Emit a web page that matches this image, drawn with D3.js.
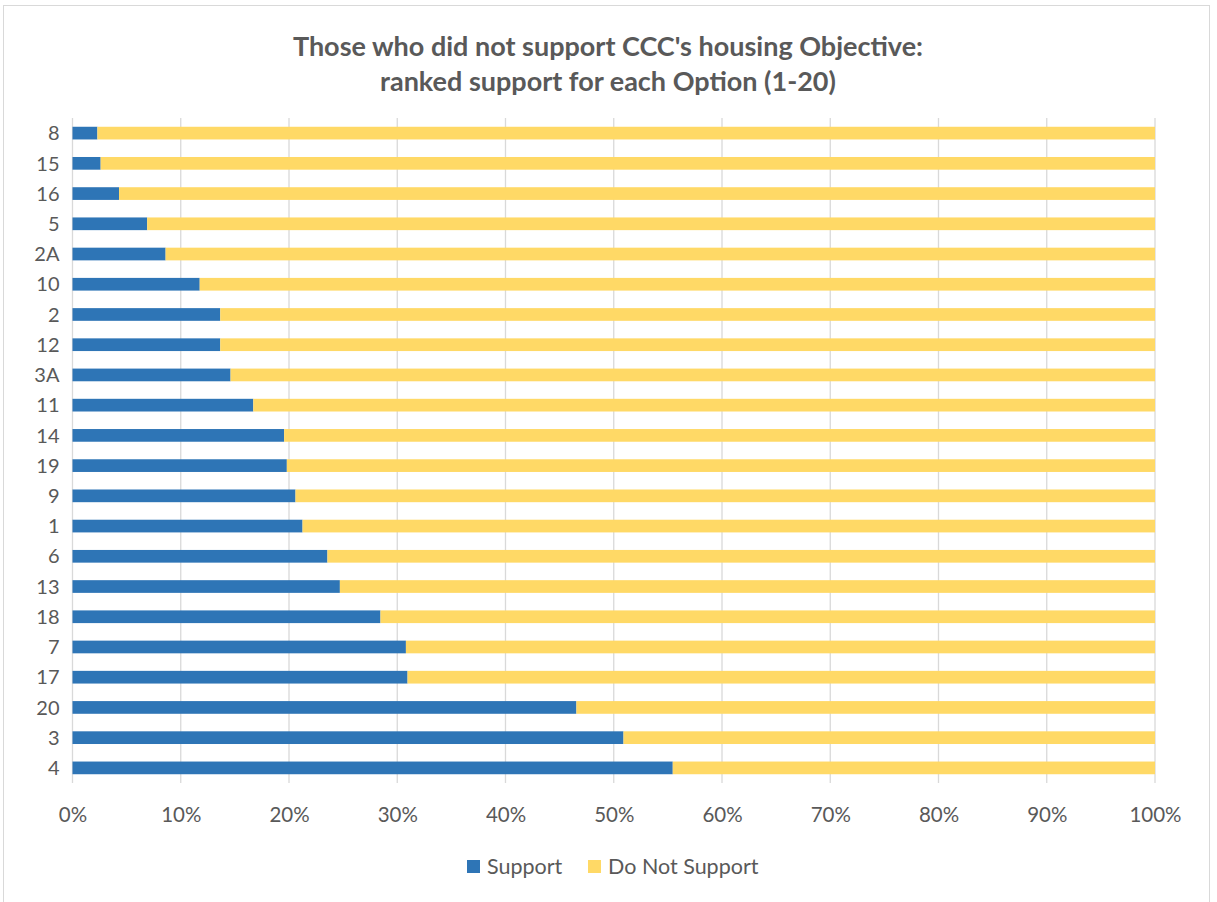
<!DOCTYPE html>
<html>
<head>
<meta charset="utf-8">
<script src="https://cdn.jsdelivr.net/npm/d3@7"></script>
<style>
  html, body { margin: 0; padding: 0; background: #fff; }
  svg { display: block; }
  text { font-family: Lato, "Open Sans", sans-serif; fill: #595959; }
</style>
</head>
<body>
<script>
// Options, listed top to bottom
const options = ["8","15","16","5","2A","10","2","12","3A","11","14","19","9","1","6","13","18","7","17","20","3","4"];
// Share of respondents supporting each option (%)
const support = [2.3,2.6,4.3,6.9,8.6,11.75,13.65,13.65,14.6,16.7,19.55,19.8,20.6,21.25,23.55,24.7,28.45,30.8,30.95,46.55,50.9,55.45];
const seriesNames = ["Support", "Do Not Support"];
const seriesColors = ["#2E75B6", "#FFD966"];
const xTicks = [0,10,20,30,40,50,60,70,80,90,100];

const W = 1217, H = 902;
const margin = { left: 72.5, right: W - 1155, top: 118, bottom: H - 783 };

const rows = options.map((o, i) => ({ option: o, "Support": support[i], "Do Not Support": 100 - support[i] }));
const stacked = d3.stack().keys(seriesNames)(rows);

const svg = d3.select("body").append("svg").attr("width", W).attr("height", H);

// chart frame
svg.append("rect").attr("x", 3.5).attr("y", 5.5).attr("width", 1206).attr("height", 900)
  .attr("fill", "#fff").attr("stroke", "#d9d9d9").attr("stroke-width", 1);

const x = d3.scaleLinear().domain([0, 100]).range([margin.left, W - margin.right]);
const y = d3.scaleBand().domain(options).range([margin.top, H - margin.bottom]).paddingInner(0.58).paddingOuter(0.29);

// vertical gridlines
svg.append("g").selectAll("line").data(xTicks).join("line")
  .attr("x1", d => x(d)).attr("x2", d => x(d))
  .attr("y1", margin.top).attr("y2", H - margin.bottom)
  .attr("stroke", "#d9d9d9").attr("stroke-width", 1.3);

// stacked bars
svg.append("g").selectAll("g").data(stacked).join("g")
  .attr("fill", (d, i) => seriesColors[i])
  .selectAll("rect").data(d => d).join("rect")
  .attr("x", d => x(d[0]))
  .attr("width", d => x(d[1]) - x(d[0]))
  .attr("y", d => y(d.data.option))
  .attr("height", y.bandwidth());

// x axis labels
const xAxis = d3.axisBottom(x).tickValues(xTicks).tickFormat(d => d + "%").tickSize(0).tickPadding(0);
const gx = svg.append("g").attr("transform", `translate(0,${H - margin.bottom})`).call(xAxis);
gx.select(".domain").remove();
gx.selectAll("text").attr("dy", null).attr("y", 39).style("font-size", "20.5px").attr("fill", "#595959");

// y axis labels
const yAxis = d3.axisLeft(y).tickSize(0).tickPadding(0);
const gy = svg.append("g").attr("transform", `translate(${margin.left},0)`).call(yAxis);
gy.select(".domain").remove();
gy.selectAll("text").attr("x", -13).attr("dy", "0.36em").style("font-size", "20px").attr("fill", "#595959");

// title
const title = svg.append("text").attr("text-anchor", "middle").style("font-size", "27px").style("font-weight", "bold");
title.append("tspan").attr("x", 608).attr("y", 56).text("Those who did not support CCC's housing Objective:");
title.append("tspan").attr("x", 608).attr("y", 91).text("ranked support for each Option (1-20)");

// legend
const legendX = [467, 588];
const lg = svg.append("g").selectAll("g").data(seriesNames).join("g")
  .attr("transform", (d, i) => `translate(${legendX[i]},860)`);
lg.append("rect").attr("width", 13).attr("height", 13).attr("fill", (d, i) => seriesColors[i]);
lg.append("text").attr("x", 20).attr("y", 14).style("font-size", "21.5px").text(d => d);
</script>
</body>
</html>
